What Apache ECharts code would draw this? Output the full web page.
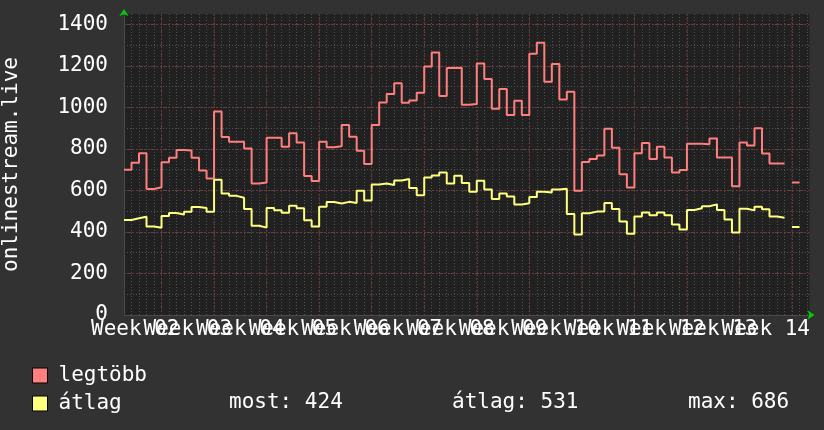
<!DOCTYPE html>
<html>
<head>
<meta charset="utf-8">
<script src="https://cdn.jsdelivr.net/npm/echarts@6/dist/echarts.min.js"></script>
<style>
html,body{margin:0;padding:0;background:#323232;}
#c{width:824px;height:430px;}
</style>
</head>
<body>
<div id="c"></div>
<script>
// Daily values (one per day, null = no data)
const maxValues = [700,734,779,607,615,736,757,795,792,757,696,657,980,857,835,835,802,633,638,854,
  854,811,876,831,670,646,835,808,813,915,859,791,728,915,1024,1065,1117,1022,1033,1071,
  1197,1264,1055,1190,1191,1013,1017,1211,1137,993,1089,964,1032,964,1258,1312,1124,1209,1038,1076,
  598,737,752,768,897,806,678,614,779,828,752,811,759,687,699,825,825,823,850,759,
  759,620,831,817,900,778,730,730,null,638];
const avgValues = [458,466,473,426,420,477,491,484,497,520,515,497,651,585,574,565,511,430,421,516,
  505,493,526,514,456,426,522,544,537,545,540,599,552,629,633,626,648,655,612,577,
  662,672,686,633,671,636,594,647,604,559,585,571,532,538,568,594,590,604,608,486,
  388,490,498,498,540,511,450,392,474,494,480,494,480,436,412,506,514,524,533,506,
  460,397,512,504,522,509,474,468,null,424];
const seriesNames = ['legtöbb', 'átlag'];
const weekLabels = ['Week 02','Week 03','Week 04','Week 05','Week 06','Week 07','Week 08',
  'Week 09','Week 10','Week 11','Week 12','Week 13','Week 14'];
const weekEnds = [5,12,19,26,33,40,47,54,61,68,75,82,89];
const yTicks = [0,200,400,600,800,1000,1200,1400];
const statLabels = ['most', 'átlag', 'max'];
const statValues = [424, 531, 686];

const FONT = '"DejaVu Sans Mono", monospace';
const X_MAX = 91.33;
const Y_MAX = 1450;

function stepData(vals){
  const out = [];
  for (let i = 0; i < vals.length; i++) {
    const v = vals[i];
    if (v == null) { out.push([i, null]); continue; }
    out.push([i, v]);
    if (i === vals.length - 1 || vals[i + 1] == null) out.push([i + 1, v]);
  }
  return out;
}

const chart = echarts.init(document.getElementById('c'), null, {renderer: 'canvas'});
const minorLine = {color: '#505050', width: 1, type: [1, 2]};
const majorLine = {color: '#703838', width: 1, type: [2, 2]};

chart.setOption({
  backgroundColor: '#323232',
  animation: false,
  grid: {left: 124, top: 14, right: 14.5, bottom: 115, show: true, backgroundColor: '#212121', borderWidth: 0,
         containLabel: false, outerBoundsMode: 'none'},
  xAxis: [
    {type: 'value', min: 0, max: X_MAX, interval: 1,
     axisLine: {show: true, lineStyle: {color: '#4a4a4a'}}, axisTick: {show: false}, axisLabel: {show: false},
     splitLine: {show: true, lineStyle: minorLine, showMaxLine: false, showMinLine: false}},
    {type: 'value', min: 0, max: X_MAX, interval: 1, position: 'bottom',
     axisLine: {show: true, symbol: ['none', 'arrow'], symbolSize: [7, 7], symbolOffset: [0, 5],
       lineStyle: {color: '#00cc00', width: 0}},
     axisTick: {show: false}, axisLabel: {show: false}, splitLine: {show: false}}
  ],
  yAxis: [
    {type: 'value', min: 0, max: Y_MAX, interval: 100,
     axisLine: {show: true, lineStyle: {color: '#4a4a4a'}}, axisTick: {show: false}, axisLabel: {show: false},
     splitLine: {show: true, lineStyle: minorLine, showMaxLine: false, showMinLine: false}},
    {type: 'value', min: 0, max: Y_MAX, interval: 200, position: 'left',
     axisLine: {show: false}, axisTick: {show: false},
     axisLabel: {show: true, color: '#ffffff', fontFamily: FONT, fontSize: 21, margin: 16,
       showMaxLabel: false,
       formatter: v => (yTicks.indexOf(v) >= 0 ? String(v) : '')},
     splitLine: {show: true, lineStyle: majorLine, showMaxLine: false, showMinLine: false},
     name: 'onlinestream.live', nameLocation: 'middle', nameRotate: 90, nameGap: 102,
     nameTextStyle: {color: '#ffffff', fontFamily: FONT, fontSize: 21}},
    {type: 'value', min: 0, max: Y_MAX, interval: 200, position: 'left',
     axisLine: {show: true, symbol: ['none', 'arrow'], symbolSize: [7, 7], symbolOffset: [0, 5],
       lineStyle: {color: '#00cc00', width: 0}},
     axisTick: {show: false}, axisLabel: {show: false}, splitLine: {show: false}}
  ],
  legend: {
    orient: 'vertical', left: 32, top: 365, padding: 0, itemWidth: 15, itemHeight: 15, itemGap: 7,
    icon: 'rect', data: seriesNames,
    itemStyle: {borderColor: '#000000', borderWidth: 1},
    textStyle: {color: '#ffffff', fontFamily: FONT, fontSize: 21, lineHeight: 21, padding: [0, 0, 0, 6]}
  },
  graphic: statLabels.map((l, i) => ({
    type: 'text', x: [229, 452, 688][i], y: 403,
    style: {text: l + ': ' + statValues[i], fill: '#ffffff', font: '21px ' + FONT, verticalAlign: 'middle'}
  })),
  series: [
    {type: 'custom', xAxisIndex: 0, yAxisIndex: 0, clip: false, silent: true, z: 1,
     data: weekEnds.map((e, i) => [e, i]),
     renderItem: function (params, api) {
       const cs = params.coordSys;
       const x = api.coord([api.value(0), 0])[0];
       const xl = api.coord([api.value(0) - 3.5, 0])[0];
       const i = api.value(1);
       return {type: 'group', children: [
         {type: 'line', shape: {x1: x, y1: cs.y, x2: x, y2: cs.y + cs.height},
          style: {stroke: '#703838', lineWidth: 1, lineDash: [2, 2]}},
         {type: 'text', x: xl, y: cs.y + cs.height + 15,
          style: {text: weekLabels[i], fill: '#ffffff', font: '21px ' + FONT, align: 'center', verticalAlign: 'middle'}}
       ]};
     }},
    {name: seriesNames[0], type: 'line', step: 'end', data: stepData(maxValues), showSymbol: false,
     connectNulls: false, color: '#ff7f7f', lineStyle: {width: 2, color: '#ff7f7f'}, z: 3},
    {name: seriesNames[1], type: 'line', step: 'end', data: stepData(avgValues), showSymbol: false,
     connectNulls: false, color: '#ffff7f', lineStyle: {width: 2, color: '#ffff7f'}, z: 3}
  ]
});
</script>
</body>
</html>
